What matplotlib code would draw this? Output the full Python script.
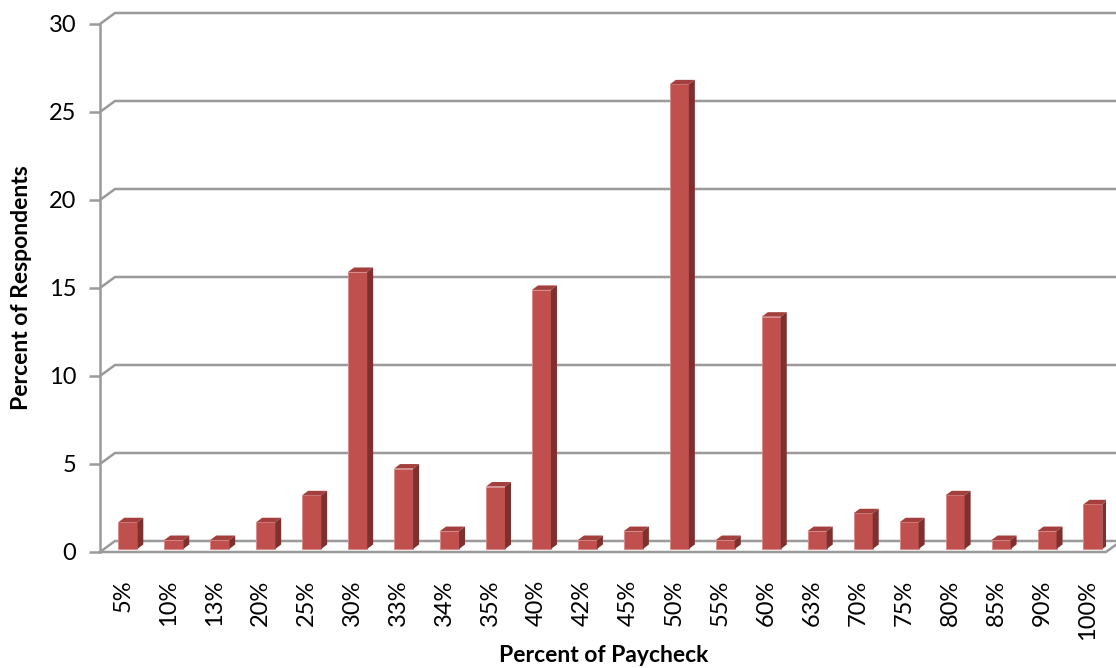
import matplotlib.pyplot as plt
import matplotlib.transforms as mtransforms
from matplotlib.patches import Polygon

labels = ['5%', '10%', '13%', '20%', '25%', '30%', '33%', '34%', '35%', '40%', '42%',
          '45%', '50%', '55%', '60%', '63%', '70%', '75%', '80%', '85%', '90%', '100%']
values = [1.52, 0.51, 0.51, 1.52, 3.05, 15.74, 4.57, 1.02, 3.55, 14.72, 0.51,
          1.02, 26.4, 0.51, 13.2, 1.02, 2.03, 1.52, 3.05, 0.51, 1.02, 2.54]
yticks = [0, 5, 10, 15, 20, 25, 30]

plt.rcParams['font.family'] = ['Lato', 'DejaVu Sans']

W, H = 1116, 668
fig = plt.figure(figsize=(W / 100, H / 100), dpi=100)
left_px, right_px, bot_px, top_px = 100, 1106, 552, 24
ax = fig.add_axes([left_px / W, (H - bot_px) / H, (right_px - left_px) / W, (bot_px - top_px) / H])

step_px = 45.96            # pixels per category
unit_px = (bot_px - top_px) / 30.0   # pixels per value unit
x0 = -27.8 / step_px
x1 = len(labels) - 1 + (right_px - 1093) / step_px
ax.set_xlim(x0, x1)
ax.set_ylim(0, 30)

def px_x(p):
    return p / step_px

def px_y(p):
    return p / unit_px

grid_c = '#9a9a9a'
# wall depth offset
wdx, wdy = px_x(15), px_y(11)
xend = x1 + px_x(14)
for t in yticks:
    ax.plot([x0, x0 + wdx, xend], [t, t + wdy, t + wdy], color=grid_c, lw=1.8,
            clip_on=False, zorder=1, solid_capstyle='butt')
# left axis and front floor
ax.plot([x0, x0], [0, 30], color=grid_c, lw=1.8, clip_on=False, zorder=1)
ax.plot([x0, x1, x1 + wdx], [0, 0, wdy], color=grid_c, lw=1.8, clip_on=False, zorder=1)

# bars: front face, top face, side face
bw = px_x(19)
fy = px_y(3)
bdx, bdy = px_x(6), px_y(4.5)
front_c, top_c, side_c = '#C0504D', '#A3403D', '#7E302E'
xs = list(range(len(labels)))
ax.bar(xs, values, width=bw, bottom=fy, color=front_c, edgecolor='#d88a88', linewidth=0.6, zorder=3)
for x, v in zip(xs, values):
    l, r, t = x - bw / 2, x + bw / 2, v + fy
    ax.add_patch(Polygon([(l, t), (r, t), (r + bdx, t + bdy), (l + bdx, t + bdy)],
                         closed=True, facecolor=top_c, edgecolor='none', zorder=3))
    ax.add_patch(Polygon([(r, fy), (r, t), (r + bdx, t + bdy), (r + bdx, fy + bdy)],
                         closed=True, facecolor=side_c, edgecolor='none', zorder=3))

for s in ax.spines.values():
    s.set_visible(False)
ax.set_yticks(yticks)
ax.set_yticklabels([str(t) for t in yticks], fontsize=17)
ax.tick_params(axis='y', length=8, width=1.8, color=grid_c, pad=9)
ax.set_xticks(xs)
ax.set_xticklabels(labels, rotation=90, fontsize=17)
ax.tick_params(axis='x', length=0, pad=20)
shift = mtransforms.ScaledTranslation(-5 / 100, 0, fig.dpi_scale_trans)
for lab in ax.get_xticklabels():
    lab.set_transform(lab.get_transform() + shift)

fig.text(604 / W, 1 - 655 / H, 'Percent of Paycheck', ha='center', va='center',
         fontsize=16.5, fontweight='bold')
fig.text(22 / W, 1 - 288 / H, 'Percent of Respondents', ha='center', va='center',
         rotation=90, fontsize=16.5, fontweight='bold')

fig.savefig('out.png', dpi=100)
